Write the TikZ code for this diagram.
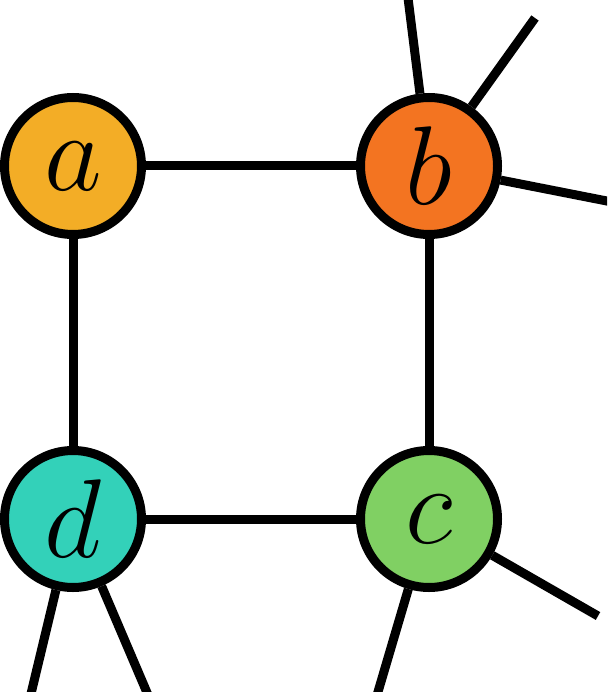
\documentclass[tikz,border=0pt]{standalone}
\usepackage{fix-cm}
\definecolor{ca}{HTML}{F3AD26}
\definecolor{cb}{HTML}{F37421}
\definecolor{cc}{HTML}{80D063}
\definecolor{cd}{HTML}{33D1B9}
\begin{document}
\begin{tikzpicture}[x=1pt,y=-1pt,
  vert/.style={circle,draw=black,line width=9pt,minimum size=137pt,inner sep=0pt,font=\fontsize{112}{112}\selectfont},
  edge/.style={line width=9pt,draw=black}]
\useasboundingbox (0,0) rectangle (607,692);
\begin{scope}
\clip (0,0) rectangle (607,692);
\coordinate (b1) at (407,-10);
\coordinate (b2) at (535,18);
\coordinate (b3) at (617,203);
\coordinate (c1) at (375,702);
\coordinate (c2) at (598,616);
\coordinate (d1) at (29,702);
\coordinate (d2) at (151,702);
\node[vert,fill=ca] (a) at (73,166) {$a$};
\node[vert,fill=cb] (b) at (429,166) {$b$};
\node[vert,fill=cc] (c) at (429,519) {$c$};
\node[vert,fill=cd] (d) at (73,519) {$d$};
\draw[edge] (a) -- (b);
\draw[edge] (b) -- (c);
\draw[edge] (c) -- (d);
\draw[edge] (d) -- (a);
\draw[edge] (b) -- (b1);
\draw[edge] (b) -- (b2);
\draw[edge] (b) -- (b3);
\draw[edge] (c) -- (c1);
\draw[edge] (c) -- (c2);
\draw[edge] (d) -- (d1);
\draw[edge] (d) -- (d2);
\end{scope}
\end{tikzpicture}
\end{document}
